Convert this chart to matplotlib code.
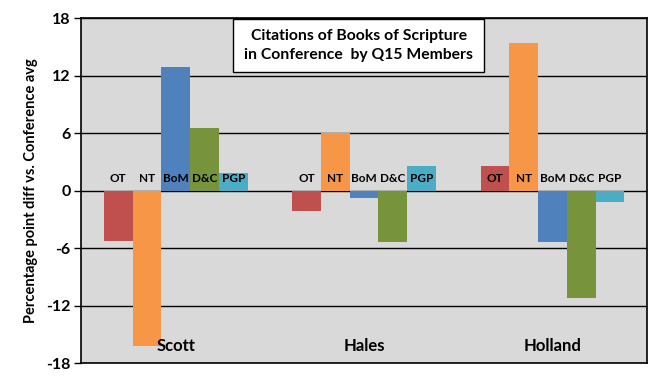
import numpy as np
import matplotlib
matplotlib.use("Agg")
import matplotlib.pyplot as plt
from matplotlib.patches import Rectangle

plt.rcParams['font.family'] = ['Lato', 'DejaVu Sans']

# Daten
members = ['Scott', 'Hales', 'Holland']
books = ['OT', 'NT', 'BoM', 'D&C', 'PGP']
colors = ['#C0504D', '#F79646', '#4F81BD', '#77933C', '#4BACC6']

ot = [-5.2, -2.15, 2.55]
nt = [-16.2, 6.0, 15.4]
bom = [12.95, -0.8, -5.35]
dc = [6.6, -5.35, -11.2]
pgp = [1.9, 2.55, -1.2]
series = [ot, nt, bom, dc, pgp]

yticks = [-18, -12, -6, 0, 6, 12, 18]

fig = plt.figure(figsize=(6.62, 3.82), dpi=100)
ax = fig.add_axes([0.1231, 0.049, 0.8538, 0.903])
ax.set_facecolor('#D9D9D9')

x = np.arange(len(members))
w = 0.763 / len(books)
for j, vals in enumerate(series):
    pos = x + (j - 2) * w
    ax.bar(pos, vals, width=w, color=colors[j], zorder=2)
    for p in pos:
        ax.text(p, 1.3, books[j], ha='center', va='center', fontsize=8.5,
                fontweight='bold', zorder=3)

for i, m in enumerate(members):
    ax.text(i, -16.2, m, ha='center', va='center', fontsize=12, fontweight='bold', zorder=3)

ax.set_xlim(-0.5, len(members) - 0.5)
ax.set_ylim(-18, 18)
ax.set_yticks(yticks)
ax.set_yticklabels([str(t) for t in yticks], fontsize=11.5, fontweight='bold')
ax.set_xticks([])
ax.tick_params(axis='y', length=5, width=1, color='black', pad=3)
ax.yaxis.grid(True, color='black', linewidth=1, zorder=1)
ax.set_axisbelow(True)
for s in ax.spines.values():
    s.set_color('black')
    s.set_linewidth(1.2)

ax.set_ylabel('Percentage point diff vs. Conference avg', fontsize=10.5,
              fontweight='bold', labelpad=6)

# Titel-Kasten
ax.add_patch(Rectangle((0.2686, 0.8435), 0.4441, 0.1545, transform=ax.transAxes,
                       facecolor='white', edgecolor='black', linewidth=1, zorder=4))
ax.text(0.4906, 0.9206, 'Citations of Books of Scripture\nin Conference  by Q15 Members',
        transform=ax.transAxes, ha='center', va='center', fontsize=11.3,
        fontweight='bold', linespacing=1.45, zorder=5)

fig.savefig('out.png', dpi=100)
